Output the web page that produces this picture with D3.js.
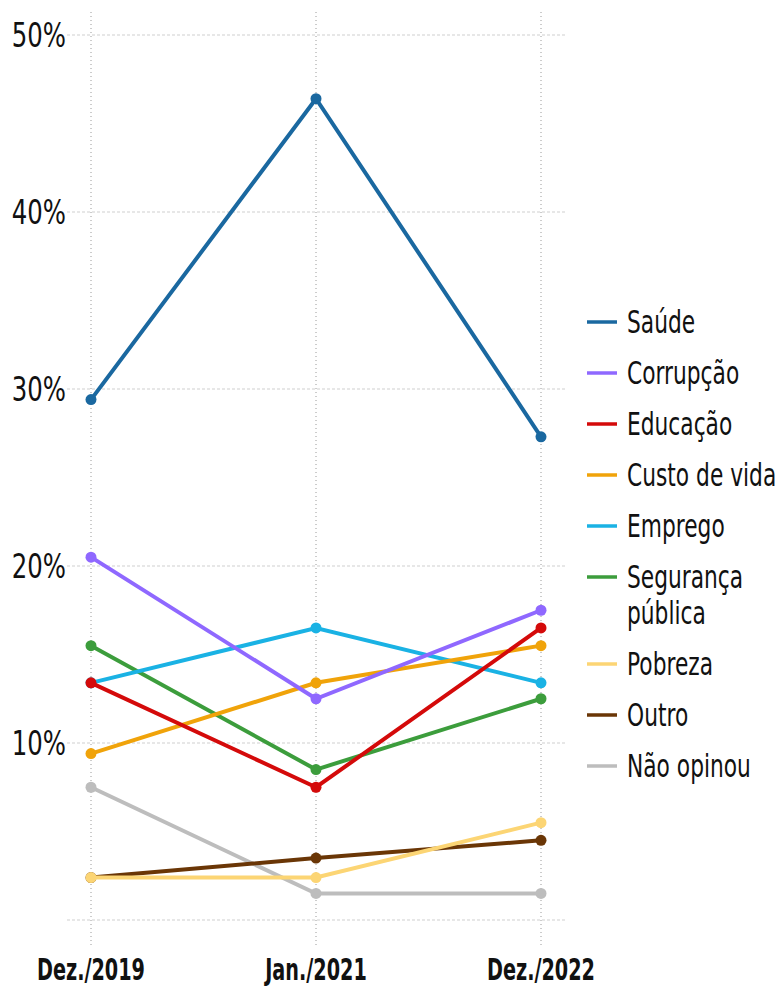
<!DOCTYPE html>
<html>
<head>
<meta charset="utf-8">
<script src="https://cdn.jsdelivr.net/npm/d3@7"></script>
<style>
  body { margin: 0; background: #fff; }
  text { font-family: "DejaVu Sans", sans-serif; fill: #111; }
</style>
</head>
<body>
<svg id="chart" width="781" height="987"></svg>
<script>
// Data
const periods = ["Dez./2019", "Jan./2021", "Dez./2022"]
const yTicks = [0, 10, 20, 30, 40, 50]

const saude = [29.4, 46.4, 27.3]
const corrupcao = [20.5, 12.5, 17.5]
const educacao = [13.4, 7.5, 16.5]
const custoDeVida = [9.4, 13.4, 15.5]
const emprego = [13.4, 16.5, 13.4]
const seguranca = [15.5, 8.5, 12.5]
const pobreza = [2.4, 2.4, 5.5]
const outro = [2.4, 3.5, 4.5]
const naoOpinou = [7.5, 1.5, 1.5]

const series = [
    { name: ["Saúde"], values: saude, color: "#1a68a0" },
    { name: ["Corrupção"], values: corrupcao, color: "#8f68ff" },
    { name: ["Educação"], values: educacao, color: "#d40a0a" },
    { name: ["Custo de vida"], values: custoDeVida, color: "#f0a30a" },
    { name: ["Emprego"], values: emprego, color: "#1ab2e4" },
    { name: ["Segurança", "pública"], values: seguranca, color: "#3c9d3c" },
    { name: ["Pobreza"], values: pobreza, color: "#fcd574" },
    { name: ["Outro"], values: outro, color: "#6a3606" },
    { name: ["Não opinou"], values: naoOpinou, color: "#bdbdbd" },
]

const svg = d3.select("#chart")

// Condensed look: DejaVu squeezed horizontally
const squeeze = (sel, sx) => sel.attr("transform", function () {
    const tx = +this.getAttribute("x"), ty = +this.getAttribute("y")
    this.setAttribute("x", 0)
    this.setAttribute("y", 0)
    return `translate(${tx},${ty}) scale(${sx},1)`
})

// Scales
const x = d3.scalePoint()
    .domain(periods)
    .range([91, 541])

const y = d3.scaleLinear()
    .domain([0, 50])
    .range([920, 35])

// Horizontal grid
svg.append("g")
    .selectAll("line")
    .data(yTicks)
    .enter()
    .append("line")
    .attr("x1", 67)
    .attr("x2", 565)
    .attr("y1", d => y(d))
    .attr("y2", d => y(d))
    .attr("stroke", "#cfcfcf")
    .attr("stroke-width", 1)
    .attr("stroke-dasharray", "3,2")

// Vertical grid
svg.append("g")
    .selectAll("line")
    .data(periods)
    .enter()
    .append("line")
    .attr("x1", d => x(d))
    .attr("x2", d => x(d))
    .attr("y1", 12)
    .attr("y2", 948)
    .attr("stroke", "#9a9a9a")
    .attr("stroke-width", 1)
    .attr("stroke-dasharray", "1,3")

// Y labels
svg.append("g")
    .selectAll("text")
    .data(yTicks.filter(d => d > 0))
    .enter()
    .append("text")
    .attr("x", 66)
    .attr("y", d => y(d) + 12)
    .attr("text-anchor", "end")
    .attr("font-size", 33)
    .text(d => d + "%")
    .call(squeeze, 0.74)

// X labels
svg.append("g")
    .selectAll("text")
    .data(periods)
    .enter()
    .append("text")
    .attr("x", d => x(d))
    .attr("y", 980)
    .attr("text-anchor", "middle")
    .attr("font-size", 31)
    .attr("font-weight", "bold")
    .text(d => d)
    .call(squeeze, 0.62)

// Lines and points
const line = d3.line()
    .x((d, i) => x(periods[i]))
    .y(d => y(d))

const seriesG = svg.append("g")
    .selectAll("g")
    .data(series.slice().reverse())
    .enter()
    .append("g")

seriesG.append("path")
    .attr("d", d => line(d.values))
    .attr("fill", "none")
    .attr("stroke", d => d.color)
    .attr("stroke-width", 4)

seriesG.selectAll("circle")
    .data(d => d.values.map((v, i) => ({ v, i, color: d.color })))
    .enter()
    .append("circle")
    .attr("cx", d => x(periods[d.i]))
    .attr("cy", d => y(d.v))
    .attr("r", 5.5)
    .attr("fill", d => d.color)

// Legend
const legend = svg.append("g")
let ly = 322
series.forEach(s => {
    legend.append("line")
        .attr("x1", 587)
        .attr("x2", 617)
        .attr("y1", ly)
        .attr("y2", ly)
        .attr("stroke", s.color)
        .attr("stroke-width", 3.5)
    s.name.forEach((n, k) => {
        legend.append("text")
            .attr("x", 627)
            .attr("y", ly + k * 36 + 11)
            .attr("font-size", 32)
            .text(n)
            .call(squeeze, 0.68)
    })
    ly += 51 + (s.name.length - 1) * 36
})
</script>
</body>
</html>
